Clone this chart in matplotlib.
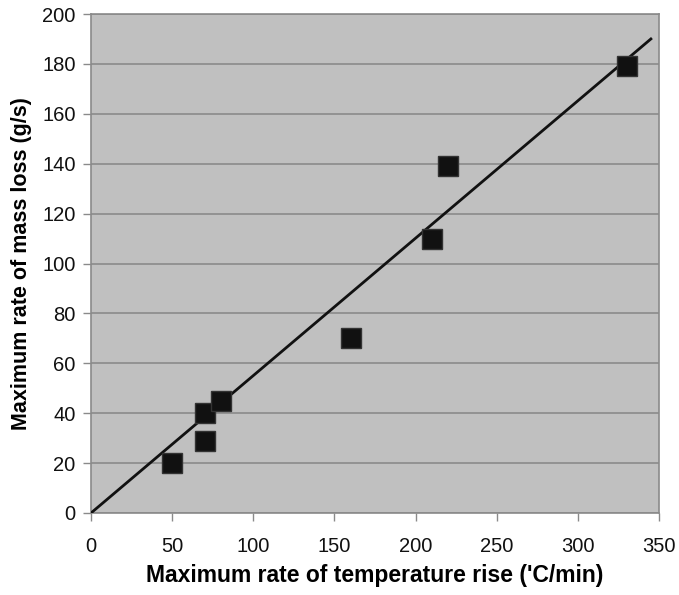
import matplotlib
matplotlib.use("Agg")
import matplotlib.pyplot as plt
import numpy as np

plt.rcParams['font.family'] = ['Liberation Sans', 'DejaVu Sans']

temp_rise = [50, 70, 70, 80, 160, 210, 220, 330]
mass_loss = [20, 40, 29, 45, 70, 110, 139, 179]
fit_x = [0, 345]
fit_y = [0, 190]
x_ticks = [0, 50, 100, 150, 200, 250, 300, 350]
y_ticks = [0, 20, 40, 60, 80, 100, 120, 140, 160, 180, 200]

fig = plt.figure(figsize=(6.79, 5.95), dpi=100)
ax = fig.add_axes([91/679, 1-513/595, (659-91)/679, (513-14)/595])
ax.set_facecolor('#c0c0c0')
ax.set_xlim(0, 350)
ax.set_ylim(0, 200)
ax.set_xticks(x_ticks)
ax.set_yticks(y_ticks)
ax.yaxis.grid(True, color='#8a8a8a', linewidth=1.2)
ax.set_axisbelow(True)
for s in ax.spines.values():
    s.set_color('#8a8a8a')
    s.set_linewidth(1.2)
ax.tick_params(axis='both', colors='#8a8a8a', labelcolor='#111111', labelsize=14.5, length=6, width=1)
ax.tick_params(axis='x', pad=11)
ax.tick_params(axis='y', pad=5)

ax.plot(fit_x, fit_y, color='#111111', linewidth=2, zorder=3)
ax.plot(temp_rise, mass_loss, linestyle='none', marker='s', markersize=14,
        markerfacecolor='#111111', markeredgecolor='#333333', zorder=4)

ax.set_xlabel("Maximum rate of temperature rise ('C/min)", fontsize=16.5, fontweight='bold', labelpad=6)
ax.set_ylabel("Maximum rate of mass loss (g/s)", fontsize=15.5, fontweight='bold', labelpad=7)

fig.savefig('out.png', dpi=100)
